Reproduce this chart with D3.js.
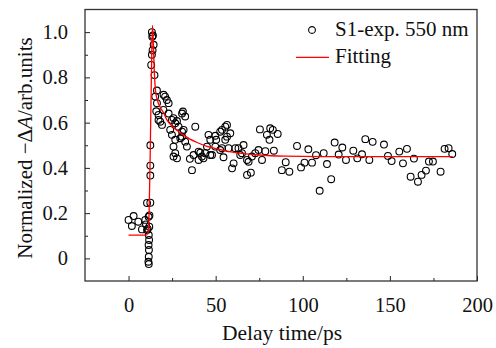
<!DOCTYPE html>
<html>
<head>
<meta charset="utf-8">
<script src="https://cdn.jsdelivr.net/npm/d3@7"></script>
<style>
  html, body { margin: 0; padding: 0; background: #fff; overflow: hidden; }
  svg { display: block; }
  svg text { font-family: "Liberation Serif", "Times New Roman", serif; fill: #111; }
</style>
</head>
<body>
<div id="chart"></div>
<script>
// Chart size, same as the window
const width = 496;
const height = 348;

// Measured points (delay in ps, normalized signal)
const delay = [
  0, 1.9, 2.9, 5.6, 7.7, 9.6, 10.0, 10.6, 10.6, 11.0, 11.5, 11.9, 12.0, 12.5,
  11.6, 11.8, 11.5, 11.7, 11.6, 11.4, 11.6,
  12.5, 12.5, 12.5,
  13.0, 13.4, 13.4, 13.6, 13.8, 14.0, 14.4, 14.9,
  15.3, 15.9, 16.3, 16.3, 17.2, 17.2, 18.2, 19.2, 20.0, 20.1, 21.0, 22.0, 23.0, 23.0,
  23.9, 24.9, 24.9, 25.8, 25.8, 25.8, 26.8, 26.8, 26.8, 27.8, 27.8, 28.7, 29.7,
  30.7, 30.7, 31.2, 31.6, 30.7, 32.5, 32.5, 33.5, 35.2, 36.4, 37.3, 38.3,
  40.2, 40.2, 41.2, 42.1, 43.0, 44.0, 45.0, 45.9, 46.9, 46.9, 47.9, 49.8, 50.3, 49.8,
  52.6, 52.6, 53.6, 53.6, 54.5, 55.5, 55.5, 56.5, 56.5, 57.4, 58.4, 59.4, 60.3,
  61.3, 63.1, 64.1, 65.1, 66.0, 68.0, 68.0, 68.9, 70.2, 70.8, 72.7, 74.6, 75.4,
  76.6, 78.5, 79.4, 80.9, 81.3, 82.8, 83.4, 85.6, 88.0, 90.2, 92.3, 96.7, 99.0,
  101.0, 103.2, 105.3, 107.6, 109.7, 112.0, 113.9, 116.3, 118.3, 120.6, 122.7,
  124.8, 129.0, 131.3, 134.0, 135.9, 138.2, 140.1, 146.6, 148.9, 151.0, 155.4,
  157.5, 159.8, 161.9, 163.8, 166.1, 168.2, 170.7, 172.4, 174.7, 179.1, 181.4,
  183.7, 185.8
];
const signal = [
  0.170, 0.143, 0.187, 0.162, 0.128, 0.170, 0.150, 0.125, 0.245, 0.130, 0.184, 0.140, 0.190, 0.246,
  0.103, 0.081, 0.059, 0.037, 0.007, -0.015, -0.025,
  0.366, 0.410, 0.500,
  0.855, 0.900, 1.000, 0.980, 0.920, 0.985, 0.944, 0.810,
  0.715, 0.650, 0.742, 0.686, 0.634, 0.612, 0.604, 0.590, 0.656, 0.723, 0.715, 0.700, 0.686, 0.640,
  0.568, 0.612, 0.546, 0.620, 0.494, 0.450, 0.597, 0.524, 0.465, 0.607, 0.442, 0.582, 0.531,
  0.640, 0.560, 0.649, 0.568, 0.538, 0.627, 0.516, 0.494, 0.440, 0.390, 0.457, 0.582,
  0.472, 0.435, 0.467, 0.450, 0.442, 0.465, 0.494, 0.546, 0.524, 0.457, 0.457, 0.542, 0.524, 0.494,
  0.560, 0.479, 0.568, 0.487, 0.447, 0.582, 0.524, 0.590, 0.538, 0.487, 0.553, 0.398, 0.420,
  0.487, 0.487, 0.457, 0.465, 0.501, 0.435, 0.369, 0.427, 0.379, 0.450, 0.465, 0.479, 0.570,
  0.435, 0.474, 0.546, 0.524, 0.575, 0.568, 0.476, 0.550, 0.390, 0.425, 0.383, 0.497, 0.402,
  0.423, 0.482, 0.423, 0.456, 0.299, 0.465, 0.417, 0.350, 0.512, 0.459, 0.490,
  0.435, 0.476, 0.442, 0.460, 0.527, 0.435, 0.515, 0.503, 0.453, 0.430, 0.472,
  0.420, 0.484, 0.361, 0.441, 0.339, 0.369, 0.388, 0.428, 0.428, 0.383, 0.484,
  0.487, 0.461
];

// Fitted curve
const fitDelay = [0, 10.2, 11.2, 11.8, 12.4, 13.0, 13.7, 14.2, 14.8, 15.5, 16.5, 18, 20, 22, 25, 28, 31, 35, 40, 45, 50, 58, 65, 75, 90, 110, 140, 186];
const fitSignal = [0.103, 0.103, 0.115, 0.2, 0.45, 0.75, 1.03, 0.96, 0.82, 0.74, 0.70, 0.67, 0.645, 0.612, 0.585, 0.565, 0.548, 0.528, 0.51, 0.495, 0.485, 0.472, 0.464, 0.457, 0.452, 0.45, 0.45, 0.45];

// Axis ticks
const xTicks = [0, 50, 100, 150, 200];
const xMinor = [25, 75, 125, 175];
const yTicks = [0, 0.2, 0.4, 0.6, 0.8, 1.0];
const yMinor = [0.1, 0.3, 0.5, 0.7, 0.9];

// Legend labels
const legendLabels = ["S1-exp. 550 nm", "Fitting"];

// Plot frame
const margin = { top: 9.5, right: 19, bottom: 67, left: 85 };
const innerWidth = width - margin.left - margin.right;
const innerHeight = height - margin.top - margin.bottom;

const xScale = d3.scaleLinear().domain([-25, 200]).range([0, innerWidth]);
const yScale = d3.scaleLinear().domain([-0.1, 1.1]).range([innerHeight, 0]);

const svg = d3.select("#chart").append("svg")
  .attr("width", width)
  .attr("height", height)
  .append("g")
  .attr("transform", "translate(" + margin.left + "," + margin.top + ")");

// Ticks point inward, so negative sizes
svg.append("g")
  .attr("transform", "translate(0," + innerHeight + ")")
  .call(d3.axisBottom(xScale).tickValues(xTicks).tickSize(-5).tickPadding(16).tickFormat(d3.format("d")));
svg.append("g")
  .attr("transform", "translate(0," + innerHeight + ")")
  .call(d3.axisBottom(xScale).tickValues(xMinor).tickSize(-3).tickFormat(""));

svg.append("g")
  .call(d3.axisLeft(yScale).tickValues(yTicks).tickSize(-5).tickPadding(17)
    .tickFormat(d => d === 0 ? "0" : d3.format(".1f")(d)));
svg.append("g")
  .call(d3.axisLeft(yScale).tickValues(yMinor).tickSize(-3).tickFormat(""));

svg.selectAll(".domain").remove();
svg.selectAll(".tick line").attr("stroke", "#222").attr("stroke-width", 1);
svg.selectAll(".tick text")
  .style("font-family", "'Liberation Serif', 'Times New Roman', serif")
  .style("font-size", "20.5px")
  .attr("fill", "#111");

// Box around the plot
svg.append("rect")
  .attr("width", innerWidth)
  .attr("height", innerHeight)
  .attr("fill", "none")
  .attr("stroke", "#333")
  .attr("stroke-width", 1.3);

// Data circles
const points = delay.map((d, i) => ({ x: d, y: signal[i] }));
svg.selectAll(".pt")
  .data(points)
  .enter().append("circle")
    .attr("class", "pt")
    .attr("cx", d => xScale(d.x))
    .attr("cy", d => yScale(d.y))
    .attr("r", 3.4)
    .attr("fill", "none")
    .attr("stroke", "#000")
    .attr("stroke-width", 1.1);

// Fit line
const fitData = fitDelay.map((d, i) => ({ x: d, y: fitSignal[i] }));
svg.append("path")
  .datum(fitData)
  .attr("fill", "none")
  .attr("stroke", "#ff0000")
  .attr("stroke-width", 1.3)
  .attr("d", d3.line().x(d => xScale(d.x)).y(d => yScale(d.y)).curve(d3.curveMonotoneX));

// Legend
const legend = svg.append("g").attr("transform", "translate(" + (312 - margin.left) + "," + (30 - margin.top) + ")");
legend.append("circle").attr("r", 3.4).attr("fill", "none").attr("stroke", "#000").attr("stroke-width", 1.1);
legend.append("line")
  .attr("x1", -16).attr("x2", 17).attr("y1", 27.3).attr("y2", 27.3)
  .attr("stroke", "#ff0000").attr("stroke-width", 1.3);
legend.selectAll(".lab")
  .data(legendLabels)
  .enter().append("text")
    .attr("class", "lab")
    .attr("x", 23)
    .attr("y", (d, i) => 5.7 + i * 27.6)
    .style("font-size", "21px")
    .text(d => d);

// Axis labels
svg.append("text")
  .attr("x", innerWidth / 2 + 1)
  .attr("y", 339.5 - margin.top)
  .style("text-anchor", "middle")
  .style("font-size", "21.5px")
  .text("Delay time/ps");

const yLab = svg.append("text")
  .attr("transform", "translate(" + (32 - margin.left) + "," + (148 - margin.top) + ") rotate(-90)")
  .style("text-anchor", "middle")
  .style("font-size", "21px");
yLab.append("tspan").text("Normalized \u2212\u0394");
yLab.append("tspan").style("font-style", "italic").text("A");
yLab.append("tspan").text("/arb.units");
</script>
</body>
</html>
